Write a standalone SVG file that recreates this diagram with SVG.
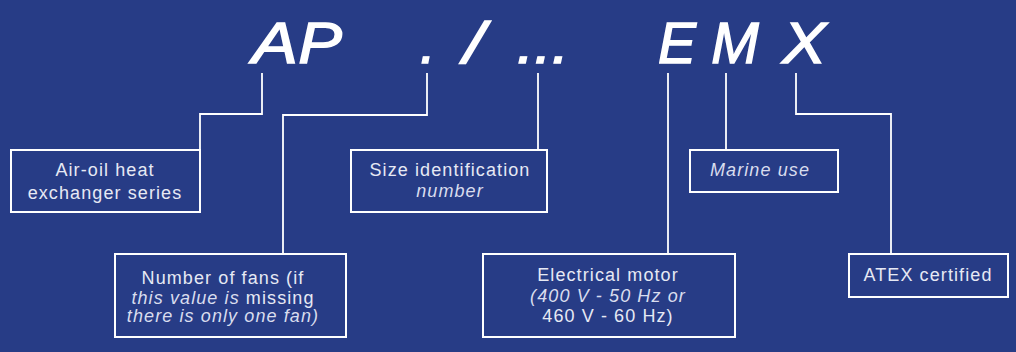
<svg xmlns="http://www.w3.org/2000/svg" width="1016" height="352" viewBox="0 0 1016 352">
<style>
.bg{fill:#273c86}
.box{fill:none;stroke:#ffffff;stroke-width:2}
.ln{fill:none;stroke:#ffffff;stroke-width:1.8}
.big{font-family:"Liberation Sans",Arial,sans-serif;font-style:italic;font-size:57px;fill:#ffffff;stroke:#ffffff;stroke-width:1.4;text-anchor:middle}
.t{font-family:"Liberation Sans",Arial,sans-serif;font-size:18px;fill:#e6e9f4;text-anchor:middle;letter-spacing:1.1px}
.i{font-style:italic;fill:#d9ddee}
</style>
<rect class="bg" x="0" y="0" width="1016" height="352"/>
<g id="title">
<text class="big" x="275" y="63" transform="translate(275 0) scale(1.2 1) translate(-275 0)">A</text>
<text class="big" x="320" y="63" transform="translate(320 0) scale(1.15 1) translate(-320 0)">P</text>
<text class="big" x="428" y="63">.</text>
<text class="big" x="474" y="63" transform="translate(474 0) scale(1.3 1) translate(-474 0)">/</text>
<text class="big" x="543" y="63" transform="translate(543 0) scale(1.1 1) translate(-543 0)">...</text>
<text class="big" x="677" y="63">E</text>
<text class="big" x="735" y="63">M</text>
<text class="big" x="804" y="63" transform="translate(804 0) scale(1.15 1) translate(-804 0)">X</text>
</g>
<g id="connectors">
<polyline class="ln" points="262,73 262,114 200,114 200,150"/>
<polyline class="ln" points="427,73 427,115 283,115 283,254"/>
<polyline class="ln" points="538,73 538,150"/>
<polyline class="ln" points="668,73 668,254"/>
<polyline class="ln" points="726,73 726,150"/>
<polyline class="ln" points="796,73 796,114 891,114 891,254"/>
</g>
<g id="series">
<rect class="box" x="11" y="150" width="189" height="62"/>
<text class="t" x="105" y="176">Air-oil heat</text>
<text class="t" x="105" y="199">exchanger series</text>
</g>
<g id="size">
<rect class="box" x="351" y="150" width="196" height="62"/>
<text class="t" x="450" y="176">Size identification</text>
<text class="t i" x="450" y="197">number</text>
</g>
<g id="marine">
<rect class="box" x="690" y="150" width="148" height="42"/>
<text class="t i" x="760" y="176">Marine use</text>
</g>
<g id="fans">
<rect class="box" x="115" y="254" width="231" height="83"/>
<text class="t" x="223" y="284">Number of fans (if</text>
<text class="t" x="223" y="304"><tspan class="i">this value is</tspan> missing</text>
<text class="t i" x="223" y="322">there is only one fan)</text>
</g>
<g id="motor">
<rect class="box" x="483" y="254" width="252" height="83"/>
<text class="t" x="608" y="281">Electrical motor</text>
<text class="t i" x="608" y="302">(400 V - 50 Hz or</text>
<text class="t" x="608" y="322">460 V - 60 Hz)</text>
</g>
<g id="atex">
<rect class="box" x="849" y="254" width="159" height="43"/>
<text class="t" x="928" y="281">ATEX certified</text>
</g>
</svg>
